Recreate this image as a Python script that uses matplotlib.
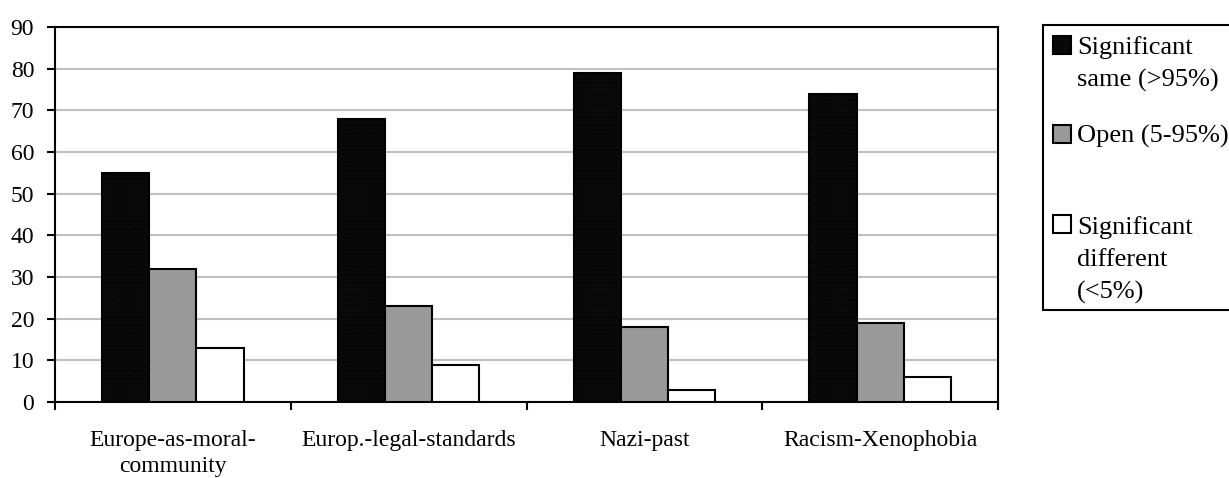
import numpy as np
import matplotlib
matplotlib.use('Agg')
from matplotlib import pyplot as plt
from matplotlib.patches import Rectangle

categories = ['Europe-as-moral-\ncommunity', 'Europ.-legal-standards', 'Nazi-past', 'Racism-Xenophobia']
same = [55, 68, 79, 74]
open_ = [32, 23, 18, 19]
different = [13, 9, 3, 6]
labels = ['Significant\nsame (>95%)', 'Open (5-95%)', 'Significant\ndifferent\n(<5%)']

plt.rcParams['font.family'] = ['Liberation Serif', 'DejaVu Serif']
plt.rcParams['hatch.color'] = '#555555'
plt.rcParams['hatch.linewidth'] = 0.6

W, H = 1229, 478
fig = plt.figure(figsize=(W / 100, H / 100), dpi=100, facecolor='w')
ax = fig.add_axes([55 / W, 1 - 402 / H, 943 / W, 375 / H])

x = np.arange(len(categories))
w = 0.2
styles = [dict(facecolor='#0a0a0a', hatch='....'),
          dict(facecolor='#999999'),
          dict(facecolor='white')]
bars = []
for i, vals in enumerate([same, open_, different]):
    b = ax.bar(x + (i - 1) * w, vals, w, edgecolor='black', linewidth=1.5, zorder=3, **styles[i])
    bars.append(b)

ax.set_xlim(-0.5, len(categories) - 0.5)
ax.set_ylim(0, 90)
ax.set_yticks(range(0, 91, 10))
ax.yaxis.grid(True, color='#c0c0c0', linewidth=1.5, zorder=0)
ax.set_axisbelow(True)
for s in ax.spines.values():
    s.set_linewidth(1.5)

ax.set_xticks(np.arange(-0.5, len(categories), 1.0))
ax.set_xticklabels([])
ax.set_xticks(x, minor=True)
ax.set_xticklabels(categories, minor=True, fontsize=17, linespacing=1.35)
ax.tick_params(axis='x', which='major', direction='out', length=6, width=1.5)
ax.tick_params(axis='x', which='minor', length=0, pad=20)
ax.tick_params(axis='y', direction='out', length=6, width=1.5, labelsize=17, pad=9)

# legend box, laid out like the original spreadsheet chart
def fx(px):
    return px / W

def fy(py):
    return 1 - py / H

fig.patches.append(Rectangle((fx(1043), fy(310)), fx(1240) - fx(1043), fy(25) - fy(310),
                             transform=fig.transFigure, facecolor='white',
                             edgecolor='black', linewidth=1.5, zorder=1))
first_baselines = [54, 143, 233]
line_gap = 33
for b, lab, py in zip(bars, labels, first_baselines):
    p = b.patches[0]
    fig.patches.append(Rectangle((fx(1053), fy(py)), fx(1071) - fx(1053), fy(py - 18) - fy(py),
                                 transform=fig.transFigure, facecolor=p.get_facecolor(),
                                 hatch=p.get_hatch(), edgecolor='black', linewidth=1.5, zorder=2))
    last = py + line_gap * lab.count('\n')
    fig.text(fx(1077), fy(last), lab, fontsize=19, va='baseline', ha='left',
             linespacing=1.58, zorder=3)

plt.savefig('out.png', dpi=100)
